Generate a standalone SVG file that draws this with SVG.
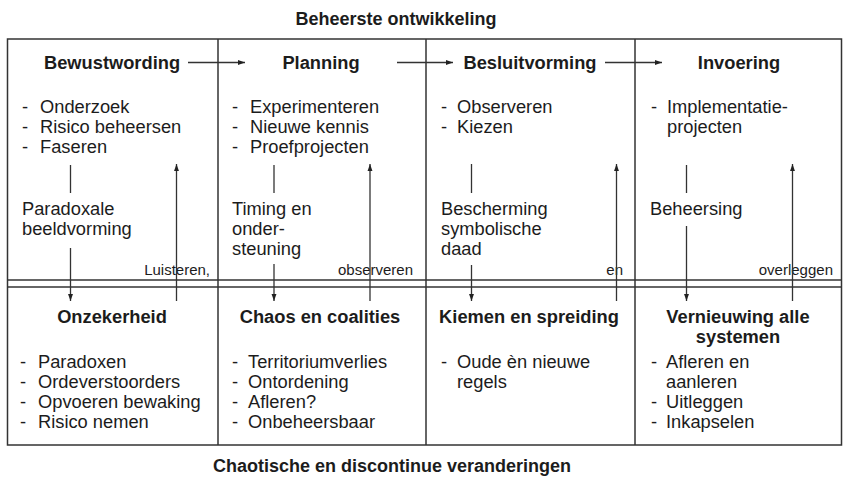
<svg xmlns="http://www.w3.org/2000/svg" width="843" height="480" viewBox="0 0 843 480">
<defs>
<marker id="ah" viewBox="0 0 10 10" refX="10" refY="5" markerWidth="7" markerHeight="7" markerUnits="userSpaceOnUse" orient="auto">
<path d="M0,1.5 L10,5 L0,8.5 Z" fill="#222"/>
</marker>
</defs>
<style>
text{font-family:"Liberation Sans",Arial,sans-serif;fill:#1c1c1c}
.t{font-size:18px;font-weight:bold;text-anchor:middle}
.h{font-size:18.3px;font-weight:bold;text-anchor:middle}
.b{font-size:18.3px}
.s{font-size:15px;text-anchor:end}
.frame{fill:none;stroke:#333;stroke-width:1.5}
.ln{fill:none;stroke:#333;stroke-width:1.3}
.ar{fill:none;stroke:#333;stroke-width:1.3;marker-end:url(#ah)}
</style>
<rect width="843" height="480" fill="#fff"/>
<text class="t" x="396" y="25">Beheerste ontwikkeling</text>
<text class="t" x="392" y="472">Chaotische en discontinue veranderingen</text>
<g id="frame">
<rect class="frame" x="7.5" y="39" width="834" height="406"/>
<line class="frame" x1="7.5" y1="280" x2="841.5" y2="280"/>
<line class="frame" x1="7.5" y1="287" x2="841.5" y2="287"/>
<line class="frame" x1="218" y1="39" x2="218" y2="445"/>
<line class="frame" x1="426" y1="39" x2="426" y2="445"/>
<line class="frame" x1="635" y1="39" x2="635" y2="445"/>
</g>
<g id="bewustwording">
<text class="h" x="112" y="69">Bewustwording</text>
<text class="b" x="22" y="113">-</text><text class="b" x="40" y="113">Onderzoek</text>
<text class="b" x="22" y="133">-</text><text class="b" x="40" y="133">Risico beheersen</text>
<text class="b" x="22" y="153">-</text><text class="b" x="40" y="153">Faseren</text>
<text class="b" x="22" y="215">Paradoxale</text>
<text class="b" x="22" y="235">beeldvorming</text>
<text class="s" x="210" y="275">Luisteren,</text>
</g>
<g id="planning">
<text class="h" x="321" y="69">Planning</text>
<text class="b" x="232" y="113">-</text><text class="b" x="250" y="113">Experimenteren</text>
<text class="b" x="232" y="133">-</text><text class="b" x="250" y="133">Nieuwe kennis</text>
<text class="b" x="232" y="153">-</text><text class="b" x="250" y="153">Proefprojecten</text>
<text class="b" x="232" y="215">Timing en</text>
<text class="b" x="232" y="235">onder-</text>
<text class="b" x="232" y="255">steuning</text>
<text class="s" x="413" y="275">observeren</text>
</g>
<g id="besluitvorming">
<text class="h" x="530" y="69">Besluitvorming</text>
<text class="b" x="441" y="113">-</text><text class="b" x="457" y="113">Observeren</text>
<text class="b" x="441" y="133">-</text><text class="b" x="457" y="133">Kiezen</text>
<text class="b" x="441" y="215">Bescherming</text>
<text class="b" x="441" y="235">symbolische</text>
<text class="b" x="441" y="255">daad</text>
<text class="s" x="623" y="275">en</text>
</g>
<g id="invoering">
<text class="h" x="739" y="69">Invoering</text>
<text class="b" x="651" y="113">-</text><text class="b" x="667" y="113">Implementatie-</text>
<text class="b" x="667" y="133">projecten</text>
<text class="b" x="650" y="215">Beheersing</text>
<text class="s" x="833" y="275">overleggen</text>
</g>
<g id="onzekerheid">
<text class="h" x="112" y="323">Onzekerheid</text>
<text class="b" x="20" y="368">-</text><text class="b" x="38" y="368">Paradoxen</text>
<text class="b" x="20" y="388">-</text><text class="b" x="38" y="388">Ordeverstoorders</text>
<text class="b" x="20" y="408">-</text><text class="b" x="38" y="408">Opvoeren bewaking</text>
<text class="b" x="20" y="428">-</text><text class="b" x="38" y="428">Risico nemen</text>
</g>
<g id="chaos">
<text class="h" x="320" y="323">Chaos en coalities</text>
<text class="b" x="232" y="368">-</text><text class="b" x="248" y="368">Territoriumverlies</text>
<text class="b" x="232" y="388">-</text><text class="b" x="248" y="388">Ontordening</text>
<text class="b" x="232" y="408">-</text><text class="b" x="248" y="408">Afleren?</text>
<text class="b" x="232" y="428">-</text><text class="b" x="248" y="428">Onbeheersbaar</text>
</g>
<g id="kiemen">
<text class="h" x="529" y="323">Kiemen en spreiding</text>
<text class="b" x="441" y="368">-</text><text class="b" x="457" y="368">Oude èn nieuwe</text>
<text class="b" x="457" y="388">regels</text>
</g>
<g id="vernieuwing">
<text class="h" x="738" y="323">Vernieuwing alle</text>
<text class="h" x="738" y="343">systemen</text>
<text class="b" x="651" y="368">-</text><text class="b" x="666" y="368">Afleren en</text>
<text class="b" x="666" y="388">aanleren</text>
<text class="b" x="651" y="408">-</text><text class="b" x="666" y="408">Uitleggen</text>
<text class="b" x="651" y="428">-</text><text class="b" x="666" y="428">Inkapselen</text>
</g>
<g id="connectors">
<line class="ar" x1="188" y1="62.5" x2="245" y2="62.5"/>
<line class="ar" x1="397" y1="62.5" x2="453" y2="62.5"/>
<line class="ar" x1="605" y1="62.5" x2="662" y2="62.5"/>
<line class="ln" x1="70.5" y1="165" x2="70.5" y2="193"/>
<line class="ar" x1="70.5" y1="248" x2="70.5" y2="301"/>
<line class="ar" x1="176.5" y1="301" x2="176.5" y2="164"/>
<line class="ln" x1="274" y1="165" x2="274" y2="193"/>
<line class="ar" x1="274" y1="264" x2="274" y2="301"/>
<line class="ar" x1="370" y1="301" x2="370" y2="164"/>
<line class="ln" x1="471.5" y1="164" x2="471.5" y2="193"/>
<line class="ar" x1="471.5" y1="265" x2="471.5" y2="301"/>
<line class="ar" x1="616.5" y1="301" x2="616.5" y2="164"/>
<line class="ln" x1="686.5" y1="165" x2="686.5" y2="193"/>
<line class="ar" x1="686.5" y1="226" x2="686.5" y2="301"/>
<line class="ar" x1="792.5" y1="301" x2="792.5" y2="164"/>
</g>
</svg>
